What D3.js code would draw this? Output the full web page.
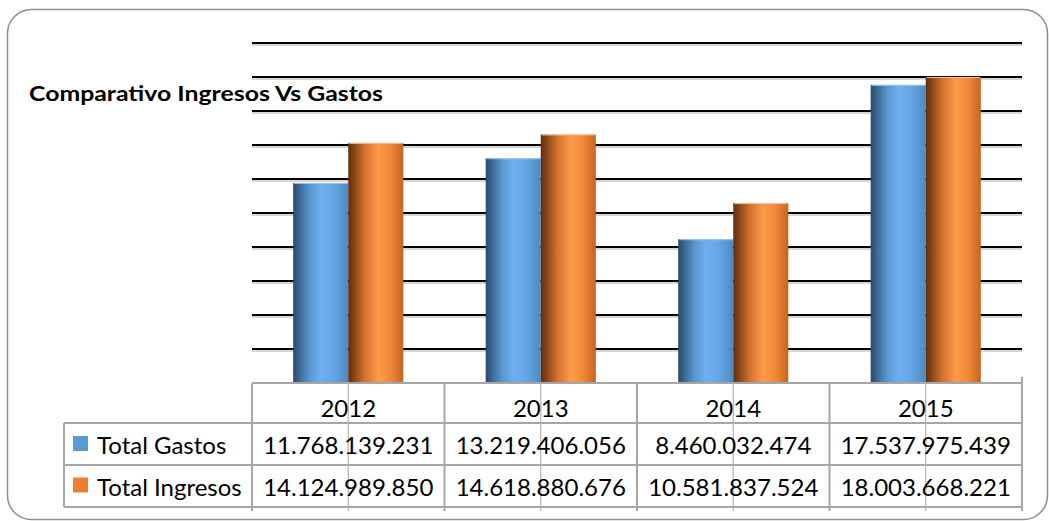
<!DOCTYPE html>
<html>
<head>
<meta charset="utf-8">
<script src="https://cdn.jsdelivr.net/npm/d3@7"></script>
<style>
  html, body { margin: 0; padding: 0; background: #fff; }
  svg { display: block; }
  text { font-family: Lato, "Open Sans", sans-serif; fill: #000; }
</style>
</head>
<body>
<svg id="chart" width="1049" height="521"></svg>
<script>
const title = "Comparativo Ingresos Vs Gastos";
const categories = ["2012", "2013", "2014", "2015"];
const seriesNames = ["Total Gastos", "Total Ingresos"];
const gastos = [11768139231, 13219406056, 8460032474, 17537975439];
const ingresos = [14124989850, 14618880676, 10581837524, 18003668221];
const yMax = 20e9;

const svg = d3.select("#chart");

// frame
svg.append("rect").attr("x", 7.5).attr("y", 9.5).attr("width", 1040).attr("height", 510)
  .attr("rx", 24).attr("ry", 24).attr("fill", "#fff").attr("stroke", "#8e8e8e").attr("stroke-width", 1.5);

const plotL = 252, plotR = 1022, plotT = 43, plotB = 383;
const x = d3.scaleBand().domain(categories).range([plotL, plotR]).paddingInner(0).paddingOuter(0);
const bw = x.bandwidth();
const xs = d3.scaleBand().domain(seriesNames).range([bw * 0.214, bw * 0.786]).padding(0);
const y = d3.scaleLinear().domain([0, yMax]).range([plotB, plotT]);

const defs = svg.append("defs");
function grad(id, stops) {
  const g = defs.append("linearGradient").attr("id", id).attr("x1", 0).attr("x2", 1).attr("y1", 0).attr("y2", 0);
  stops.forEach(s => g.append("stop").attr("offset", s[0]).attr("stop-color", s[1]));
}
grad("gBlue", [[0, "#2a4868"], [0.12, "#3d6a96"], [0.3, "#5b96d0"], [0.5, "#6eb0ec"], [0.7, "#67a8e6"], [0.9, "#5795d0"], [1, "#4d88c0"]]);
grad("gOrange", [[0, "#5e2e0e"], [0.12, "#8e4818"], [0.3, "#d2722e"], [0.55, "#ff9a48"], [0.75, "#f28a3c"], [0.92, "#d8702a"], [1, "#c4641f"]]);

// gridlines
const ticks = y.ticks(10).filter(t => t > 0);
const grid = svg.append("g");
grid.selectAll("line.sh").data(ticks).join("line").attr("class", "sh")
  .attr("x1", plotL).attr("x2", plotR).attr("y1", d => y(d) + 2).attr("y2", d => y(d) + 2)
  .attr("stroke", "#c8c8c8").attr("stroke-width", 1.5);
grid.selectAll("line.g").data(ticks).join("line").attr("class", "g")
  .attr("x1", plotL).attr("x2", plotR).attr("y1", d => y(d)).attr("y2", d => y(d))
  .attr("stroke", "#000").attr("stroke-width", 2.2);

// title
svg.append("text").attr("x", 29).attr("y", 101).attr("font-size", 21).attr("font-weight", "bold")
  .attr("textLength", 354).attr("lengthAdjust", "spacingAndGlyphs").text(title);

// bars
const data = [gastos, ingresos];
const fills = ["url(#gBlue)", "url(#gOrange)"];
seriesNames.forEach((s, si) => {
  svg.append("g").selectAll("rect").data(categories).join("rect")
    .attr("x", c => x(c) + xs(s)).attr("width", xs.bandwidth())
    .attr("y", (c, i) => y(data[si][i])).attr("height", (c, i) => y(0) - y(data[si][i]))
    .attr("fill", fills[si]);
  svg.append("g").selectAll("line").data(categories).join("line")
    .attr("x1", c => x(c) + xs(s) + 1).attr("x2", c => x(c) + xs(s) + xs.bandwidth() - 1)
    .attr("y1", (c, i) => y(data[si][i]) + 0.5).attr("y2", (c, i) => y(data[si][i]) + 0.5)
    .attr("stroke", si === 0 ? "#9cc8f0" : "#f6c09a").attr("stroke-width", 1);
});

// data table
const tableL = 64, tableBottomExt = 511;
const gray = "#a6a6a6";
const tg = svg.append("g");
tg.append("line").attr("x1", plotL).attr("x2", plotR).attr("y1", plotB).attr("y2", plotB).attr("stroke", gray).attr("stroke-width", 2);
[423, 465, 507].forEach(yy => tg.append("line").attr("x1", tableL).attr("x2", plotR).attr("y1", yy).attr("y2", yy).attr("stroke", gray).attr("stroke-width", 2));
tg.append("line").attr("x1", tableL).attr("x2", tableL).attr("y1", 423).attr("y2", 507).attr("stroke", gray).attr("stroke-width", 2);
const bounds = categories.map(c => x(c)).concat([plotR]);
tg.selectAll("line.cb").data(bounds).join("line").attr("class", "cb")
  .attr("x1", d => d).attr("x2", d => d).attr("y1", (d, i) => i === bounds.length - 1 ? plotB - 6 : plotB).attr("y2", tableBottomExt)
  .attr("stroke", gray).attr("stroke-width", 2);
tg.selectAll("line.ct").data(categories).join("line").attr("class", "ct")
  .attr("x1", c => x(c) + bw / 2).attr("x2", c => x(c) + bw / 2).attr("y1", plotB).attr("y2", tableBottomExt)
  .attr("stroke", "#b4b4b4").attr("stroke-width", 1.2);

const loc = d3.formatLocale({ decimal: ",", thousands: ".", grouping: [3], currency: ["$", ""] });
const fmt = loc.format(",d");
const fs = 24;
tg.selectAll("text.h").data(categories).join("text").attr("class", "h")
  .attr("x", c => x(c) + bw / 2).attr("y", 417).attr("text-anchor", "middle").attr("font-size", fs).text(c => c);
const baselines = [454, 495.5];
seriesNames.forEach((s, si) => {
  tg.selectAll("text.v" + si).data(categories).join("text").attr("class", "v" + si)
    .attr("x", c => x(c) + bw / 2).attr("y", baselines[si]).attr("text-anchor", "middle").attr("font-size", fs)
    .text((c, i) => fmt(data[si][i]));
  tg.append("rect").attr("x", 73).attr("y", baselines[si] - 18).attr("width", 15).attr("height", 15)
    .attr("fill", si === 0 ? "#5b9bd5" : "#ed7d31");
  tg.append("text").attr("x", 97).attr("y", baselines[si]).attr("font-size", fs).text(s);
});
</script>
</body>
</html>
